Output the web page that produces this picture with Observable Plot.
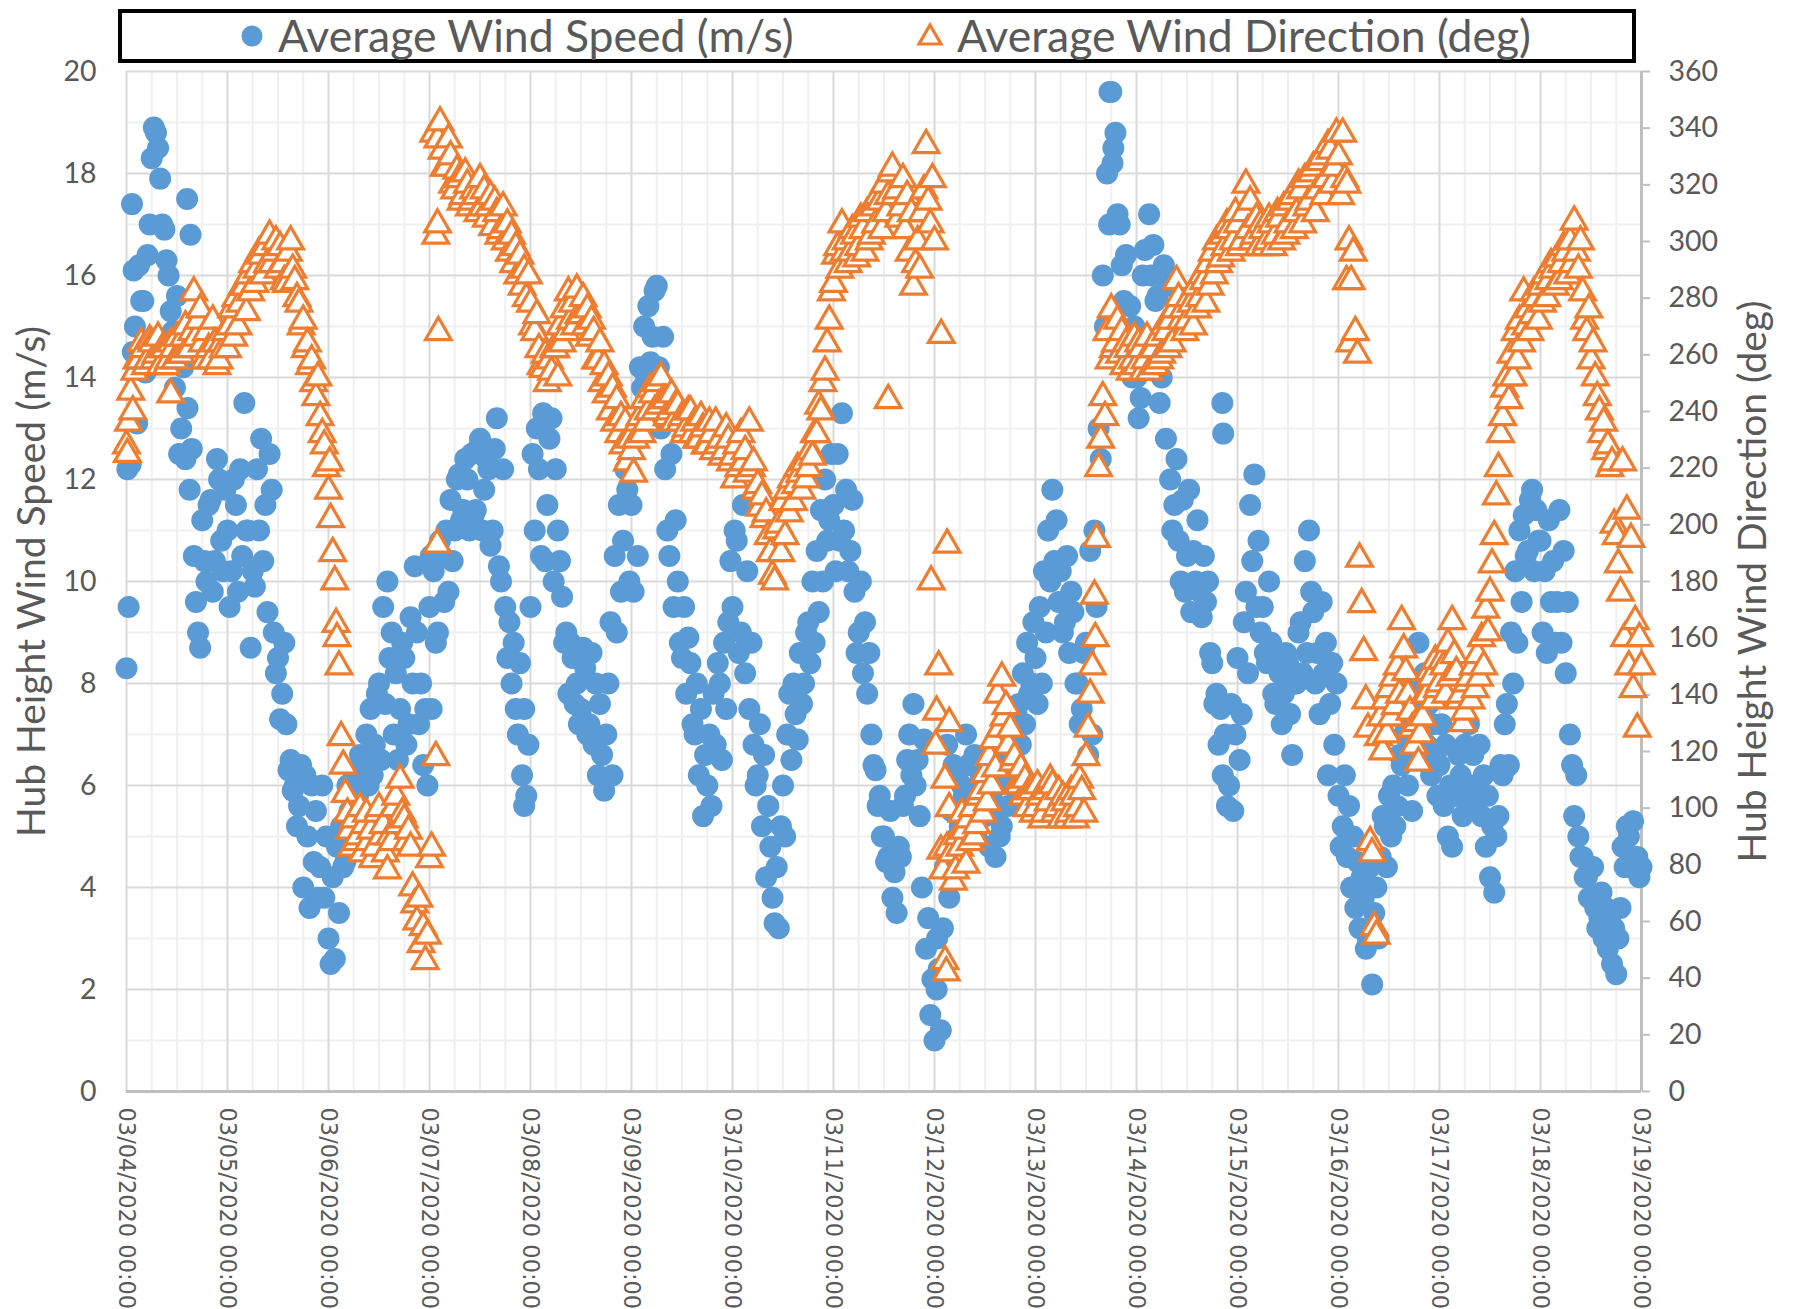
<!DOCTYPE html>
<html>
<head>
<meta charset="utf-8">
<script src="https://cdn.jsdelivr.net/npm/d3@7"></script>
<script src="https://cdn.jsdelivr.net/npm/@observablehq/plot@0.6"></script>
<style>
  html, body { margin: 0; padding: 0; background: #fff; }
  body { width: 1797px; height: 1309px; overflow: hidden; font-family: Lato, "Open Sans", sans-serif; }
  #legendWrap { position: relative; width: 1797px; height: 65px; }
  #legendBox { position: absolute; left: 118px; top: 9px; width: 1518px; height: 54px; box-sizing: border-box; border: 4px solid #000; background: #fff; }
  .lt { position: absolute; top: -1px; line-height: 46px; font-size: 44.5px; color: #595959; white-space: nowrap; }
  .sym { position: absolute; }
  #chart svg { display: block; }
</style>
</head>
<body>
<div id="legendWrap">
  <div id="legendBox">
    <svg class="sym" style="left:119px;top:12px" width="22" height="22"><circle cx="11" cy="11" r="10.5" fill="#5b9bd5"/></svg>
    <span class="lt" style="left:156px">Average Wind Speed (m/s)</span>
    <svg class="sym" style="left:794px;top:9px" width="28" height="26"><path d="M14,3 L25,22 L3,22 Z" fill="#fff" stroke="#ed7d31" stroke-width="3.2" stroke-linejoin="miter"/></svg>
    <span class="lt" style="left:835px">Average Wind Direction (deg)</span>
  </div>
</div>
<div id="chart"></div>
<script>
// ---- data: hourly readings (on the hour = A, half past = B), starting 03/04/2020 00:00 ----
const speedA = [
  8.3,12.3,15.0,16.2,15.5,16.4,18.3,18.8,17.9,16.9,16.0,14.9,15.6,13.0,12.4,11.8,10.5,9.0,11.2,10.0,11.6,10.4,12.0,10.2,
  11.0,10.2,11.5,12.2,13.5,11.0,10.2,12.2,12.8,11.5,12.5,9.0,8.5,7.8,7.2,6.5,6.0,5.6,4.0,5.0,6.0,5.5,4.4,3.8,
  3.0,4.2,4.8,5.2,4.5,5.5,6.2,5.8,6.5,7.0,7.5,6.8,8.0,9.5,10.0,9.0,8.2,7.5,8.5,7.2,8.0,9.0,8.0,7.5,
  9.5,10.2,9.0,10.5,11.0,11.6,11.0,12.1,11.4,12.0,12.5,11.4,12.8,11.8,12.2,11.0,13.2,10.0,9.5,9.2,8.8,7.0,6.2,5.8,
  9.5,11.0,12.2,13.3,11.5,13.2,12.2,10.4,8.8,7.8,8.5,8.0,7.5,8.3,7.2,6.8,6.2,6.6,7.0,9.2,10.5,11.5,10.8,11.8,
  11.5,12.8,14.2,15.0,15.4,14.8,15.8,13.0,12.2,10.5,9.5,10.0,8.5,7.8,8.4,7.0,6.2,5.4,6.0,5.6,6.8,8.0,8.8,9.2,
  9.5,10.8,9.0,8.2,7.5,6.8,6.2,5.2,4.2,4.8,3.3,3.2,6.0,7.0,6.5,7.4,8.6,8.0,9.2,10.0,10.6,11.4,12.0,11.2,
  11.5,12.5,13.3,11.8,10.6,9.8,9.0,8.2,7.8,7.0,6.3,5.8,5.0,4.6,3.8,3.5,4.6,5.8,7.0,7.6,6.5,4.0,2.8,1.5,
  1.0,2.4,3.2,6.8,5.5,6.2,5.2,5.8,6.4,5.6,5.0,6.2,5.4,4.8,5.5,6.0,5.2,6.6,7.0,6.5,7.6,8.2,8.8,8.0,
  8.5,9.5,10.2,11.0,11.8,11.2,10.2,9.2,8.6,9.4,8.0,7.5,8.8,10.6,11.0,13.0,16.0,18.0,19.6,18.8,17.0,15.5,14.5,14.0,
  14.0,13.6,16.5,17.2,16.6,15.6,14.0,12.8,12.0,11.5,10.8,11.6,10.5,9.4,10.0,9.8,10.5,10.0,8.4,7.8,7.5,7.0,6.0,5.5,
  8.5,7.4,9.8,11.5,12.1,10.8,9.5,8.4,8.8,7.6,8.2,7.8,8.4,6.6,8.0,9.2,10.4,11.0,9.4,8.6,9.6,8.8,7.6,6.8,
  5.8,5.2,4.6,4.0,3.6,3.2,3.8,3.0,2.1,4.0,4.6,5.2,5.8,6.0,5.6,6.4,7.2,6.8,8.0,8.8,7.4,6.8,6.2,6.6,
  6.4,5.6,5.0,4.8,5.8,6.2,6.8,7.2,6.6,5.8,5.4,4.8,4.2,3.9,5.4,6.2,7.6,9.0,10.2,11.0,11.3,10.6,11.8,11.4,
  10.8,10.2,11.2,10.4,9.6,8.8,8.2,7.0,5.4,5.0,4.6,4.2,3.8,3.6,3.4,3.0,2.8,2.5,2.3,3.6,4.4,5.0,5.3,4.6,
  4.4
];
const speedB = [
  9.5,14.5,13.1,15.5,14.1,17.0,18.9,18.5,17.0,16.3,15.3,13.8,12.5,14.2,13.4,12.6,9.6,8.7,10.4,11.5,9.8,12.4,10.8,11.8,
  9.5,12.0,9.8,10.5,11.0,8.7,9.9,11.0,10.4,9.4,11.8,8.2,7.3,8.8,6.3,5.9,5.2,6.4,6.2,3.6,4.5,3.8,6.0,5.0,
  2.5,2.6,3.5,4.4,6.0,4.9,4.8,6.6,5.4,6.0,6.2,7.8,6.5,7.6,8.5,7.0,6.5,8.8,6.8,9.3,10.3,7.2,6.4,6.0,
  7.5,8.8,10.8,9.6,9.8,10.4,12.0,11.2,12.4,11.0,11.3,12.6,11.0,12.4,10.7,12.6,10.3,12.2,8.5,8.0,7.5,8.4,7.5,6.8,
  12.5,13.0,10.5,10.4,12.8,10.0,11.0,9.7,9.0,8.8,7.6,7.2,8.7,7.0,8.6,8.0,7.6,5.9,8.0,6.2,9.0,9.8,12.2,10.0,
  9.8,10.5,13.8,14.0,14.3,15.7,14.2,14.8,11.0,12.5,11.2,8.8,9.5,8.9,7.2,8.0,7.5,6.6,7.0,7.8,8.4,6.5,7.5,10.4,
  11.0,8.6,11.5,10.2,8.8,6.0,7.2,6.6,5.6,3.8,4.4,5.2,5.0,7.8,8.0,6.9,7.6,9.0,8.4,8.8,9.4,10.0,10.8,12.5,
  10.2,10.8,11.0,10.2,11.6,8.6,10.0,9.2,8.6,6.4,5.6,5.0,4.5,5.5,4.3,4.8,5.6,6.5,6.2,6.0,5.4,6.9,3.4,2.2,
  2.0,1.2,4.4,3.8,6.4,5.0,6.0,7.0,5.3,6.6,6.0,5.5,6.6,5.8,4.6,5.0,6.4,5.6,6.0,7.4,6.8,7.2,7.8,9.2,
  7.6,8.0,9.0,10.0,10.4,9.6,9.0,10.5,9.8,8.0,7.2,8.6,6.6,7.0,9.5,12.4,15.0,17.0,18.5,17.2,16.2,16.4,15.4,15.0,
  13.2,16.0,14.5,16.0,15.5,13.5,16.2,15.8,11.0,12.4,10.0,9.8,11.8,10.6,11.2,9.3,9.6,8.6,7.6,6.8,6.2,5.6,7.6,7.0,
  6.5,9.2,8.2,10.4,9.5,9.0,8.6,10.0,7.8,8.4,7.2,8.6,7.4,8.0,9.0,8.2,8.6,9.8,8.0,7.4,8.2,6.2,8.4,8.0,
  4.8,6.2,5.6,5.0,4.5,4.2,2.8,4.4,3.5,3.0,5.4,4.4,5.0,5.2,6.6,7.0,6.0,5.5,6.6,7.6,8.2,7.6,7.2,5.8,
  7.2,6.8,6.0,5.8,6.6,5.4,5.8,6.0,5.6,6.8,6.2,5.8,5.2,5.0,6.4,7.2,6.4,8.0,8.8,9.6,10.5,11.6,10.2,10.8,
  9.0,8.6,9.6,8.8,11.4,10.6,9.6,6.4,6.2,4.6,4.2,3.8,4.4,3.2,3.9,3.6,3.4,3.2,3.0,4.8,5.2,4.4,4.6,4.2
];
// extra isolated readings: [hours since start, m/s]
const speedExtra = [
  [0.2,12.2],[1.3,17.4],[1.7,16.1],[14.4,17.5],[15.2,16.8],[72.3,10.5],[94.5,5.6],
  [192.6,3.0],[233.6,19.6],[234.3,18.2],[260.4,13.5],[260.6,12.9]
];
const dirA = [
  228,247,254,258,262,258,264,260,256,262,258,262,266,260,270,262,282,272,264,268,258,264,258,262,
  262,276,280,278,284,288,292,290,295,298,302,296,290,292,285,300,286,278,272,264,258,245,238,228,
  212,190,160,125,105,92,96,90,84,98,92,86,100,94,78,88,104,110,96,92,72,60,52,46,
  82,338,336,332,326,330,318,322,316,320,314,316,322,318,312,305,310,304,300,296,292,288,284,280,
  278,268,262,255,250,254,262,270,276,282,278,283,274,270,266,268,258,250,246,240,236,232,228,222,
  226,230,238,244,240,246,250,252,244,240,236,242,238,234,240,236,230,234,228,232,236,230,226,230,
  224,228,232,226,236,222,214,210,204,190,180,200,208,212,216,214,218,222,220,224,232,240,254,272,
  285,298,306,300,296,302,298,304,310,302,306,314,320,316,326,318,312,304,296,284,300,310,334,306,
  300,150,78,86,84,78,86,92,96,100,94,106,112,118,124,140,146,136,128,118,108,104,100,106,
  100,104,98,102,108,100,96,102,98,104,100,106,118,140,175,220,245,268,276,264,260,256,262,258,
  256,262,258,254,262,266,260,268,272,276,280,276,272,278,284,280,286,292,296,300,294,298,304,300,
  306,300,320,314,302,298,304,300,306,302,308,312,306,316,310,318,322,314,326,318,330,322,332,326,
  330,338,320,286,268,188,155,128,84,55,132,138,142,146,150,166,148,134,122,116,132,140,146,152,
  144,150,158,166,148,140,134,146,150,154,160,170,176,196,220,238,252,260,268,272,282,276,274,280,
  284,288,286,290,294,292,296,300,307,290,282,268,258,252,240,236,228,222,196,176,160,150,142,128,
  150
];
const dirB = [
  236,240,258,264,256,265,258,266,262,256,264,258,260,266,262,268,266,276,258,262,272,256,264,268,
  270,266,270,284,275,282,285,296,288,292,292,300,298,286,296,290,280,270,262,256,250,252,232,220,
  202,180,150,115,98,86,88,100,94,88,82,98,90,84,90,100,94,98,88,86,66,68,58,55,
  86,118,342,326,336,320,325,314,324,312,318,310,312,308,316,314,302,312,306,302,298,295,290,288,
  270,274,256,260,258,262,252,264,268,272,270,274,280,276,272,258,264,256,252,248,244,238,236,230,
  218,236,232,236,248,240,242,244,238,246,242,236,232,240,232,230,238,228,236,226,228,224,234,222,
  216,220,222,218,220,212,206,202,196,182,198,190,196,204,208,220,212,216,226,232,242,250,264,282,
  295,290,296,292,304,294,308,296,300,312,316,304,310,324,316,308,322,316,310,292,290,318,314,322,
  134,85,46,100,74,90,98,80,88,90,104,98,102,108,114,128,132,122,116,108,114,110,106,98,
  108,96,106,110,98,106,104,96,106,96,110,98,128,150,195,230,238,258,262,272,268,264,254,266,
  264,254,266,262,256,258,270,262,264,286,272,268,280,270,276,288,278,284,288,292,302,306,296,310,
  298,310,304,300,308,306,298,308,298,310,300,302,314,304,320,306,312,324,310,328,316,334,320,338,
  316,322,300,296,260,172,138,88,58,125,120,126,132,136,140,156,140,128,130,126,140,148,138,142,
  152,140,146,154,138,130,144,138,142,146,150,162,186,210,232,248,244,252,258,264,270,268,282,272,
  278,280,292,284,286,298,288,292,296,300,272,276,264,245,232,226,220,200,186,222,205,195,166,160
];
const dirExtra = [
  [0.2,225],[10.5,246],[48.3,222],[49.8,165],[73.5,302],[73.8,193],[73.9,306],[74.1,268],
  [181,244],[191.2,180],[192.3,122],[193.6,267],[194.5,110],[194.8,42],[195,193],[195.5,130],
  [230.2,160],[289.9,286],[290.7,264]
];
const speedTicks = [0,2,4,6,8,10,12,14,16,18,20];
const dirTicks = [0,20,40,60,80,100,120,140,160,180,200,220,240,260,280,300,320,340,360];
const dayCount = 15;

// ---- build tables ----
const t0 = Date.UTC(2020, 2, 4);
const HOUR = 3600e3;
const at = h => new Date(t0 + h * HOUR);
const speedData = [
  ...speedA.map((v, i) => ({h: i, v})),
  ...speedB.map((v, i) => ({h: i + 0.5, v})),
  ...speedExtra.map(([h, v]) => ({h, v}))
].sort((a, b) => a.h - b.h).map(d => ({t: at(d.h), v: d.v}));
const dirData = [
  ...dirA.map((v, i) => ({h: i, v})),
  ...dirB.map((v, i) => ({h: i + 0.5, v})),
  ...dirExtra.map(([h, v]) => ({h, v}))
].sort((a, b) => a.h - b.h).map(d => ({t: at(d.h), v: d.v / 18}));

const days = d3.range(dayCount + 1).map(d => at(d * 24));
const quarterDays = d3.range(dayCount * 4 + 1).filter(q => q % 4 !== 0).map(q => at(q * 6));
const minorY = d3.range(1, 20, 2);
const fmtDay = d3.utcFormat("%m/%d/%Y %H:%M");

const chart = Plot.plot({
  width: 1797,
  height: 1244,
  marginTop: 6,
  marginBottom: 218,
  marginLeft: 126,
  marginRight: 156,
  x: {type: "utc", domain: [days[0], days[days.length - 1]], axis: null},
  y: {domain: [0, 20]},
  style: {fontFamily: "Lato, 'Open Sans', sans-serif", background: "#fff", color: "#595959", overflow: "visible"},
  marks: [
    Plot.ruleX(quarterDays, {stroke: "#f0f0f0", strokeWidth: 2}),
    Plot.ruleY(minorY, {stroke: "#f0f0f0", strokeWidth: 2}),
    Plot.ruleX(days, {stroke: "#d9d9d9", strokeWidth: 2}),
    Plot.ruleY(speedTicks, {stroke: "#d9d9d9", strokeWidth: 2}),
    Plot.ruleY([0], {stroke: "#bfbfbf", strokeWidth: 3}),
    Plot.ruleX([days[days.length - 1]], {stroke: "#bfbfbf", strokeWidth: 3}),
    Plot.axisY({anchor: "left", ticks: speedTicks, tickSize: 0, tickPadding: 30, fontSize: 28.5, label: null, fill: "#595959"}),
    Plot.axisY({anchor: "right", ticks: dirTicks.map(d => d / 18), tickFormat: v => String(Math.round(v * 18)),
      tickSize: 8, tickPadding: 19, fontSize: 28.5, label: null, stroke: "#bfbfbf", strokeWidth: 2, fill: "#595959"}),
    Plot.text(days, {x: d => d, frameAnchor: "bottom", dy: 16, rotate: 90, textAnchor: "start", lineAnchor: "middle",
      text: d => fmtDay(d), fontSize: 22.5, fontFamily: "'DejaVu Sans', sans-serif", fill: "#595959"}),
    Plot.dot(speedData, {x: "t", y: "v", r: 11, fill: "#5b9bd5", stroke: null}),
    Plot.dot(dirData, {x: "t", y: "v", r: 9.5, symbol: "triangle", stroke: "#ed7d31", strokeWidth: 3.2, fill: "#fff"}),
    Plot.text(["Hub Height Wind Speed (m/s)"], {frameAnchor: "left", dx: -94, rotate: -90, textAnchor: "middle", lineAnchor: "middle",
      text: d => d, fontSize: 39, fill: "#595959"}),
    Plot.text(["Hub Height Wind Direction (deg)"], {frameAnchor: "right", dx: 112, rotate: -90, textAnchor: "middle", lineAnchor: "middle",
      text: d => d, fontSize: 39, fill: "#595959"})
  ]
});
document.getElementById("chart").appendChild(chart);
</script>
</body>
</html>
